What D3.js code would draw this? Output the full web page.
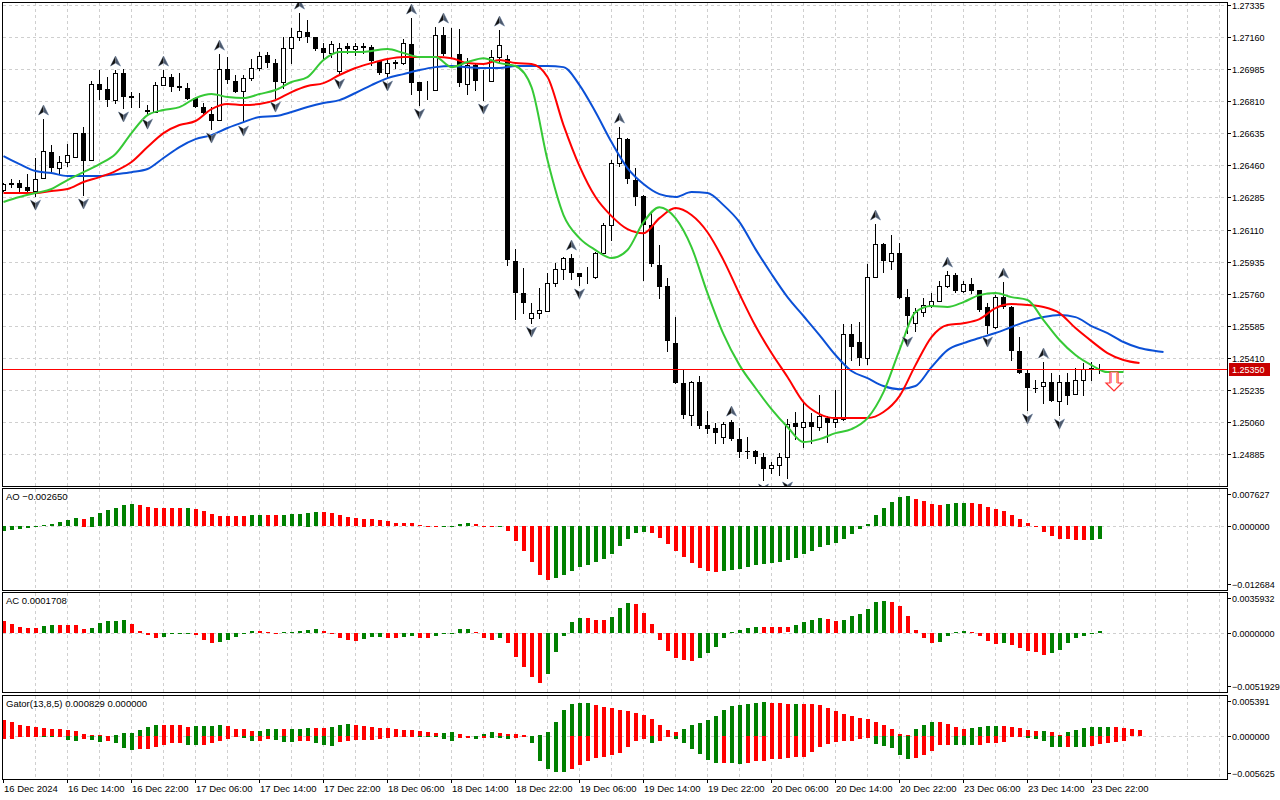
<!DOCTYPE html>
<html>
<head>
<meta charset="utf-8">
<title>GBPUSD H1 - Alligator, AO, AC, Gator</title>
<script src="https://cdn.jsdelivr.net/npm/d3@7/dist/d3.min.js"></script>
<style>
body { margin: 0; background: #fff; }
text { font-family: "Liberation Sans", Arial, sans-serif; font-size: 9.5px; fill: #000; }
text.scale { font-size: 9px; }
</style>
</head>
<body>
<script>
// H1 candles, 16 Dec 06:00 .. 23 Dec 23:00
var open = [
  1.26325, 1.26363, 1.26363, 1.26341, 1.26320, 1.26391, 1.26533, 1.26445, 1.26478, 1.26505,
  1.26636, 1.26489, 1.26904, 1.26876, 1.26816, 1.26964, 1.26838, 1.26827, 1.26762, 1.26751,
  1.26898, 1.26942, 1.26893, 1.26882, 1.26827, 1.26778, 1.26740, 1.26707, 1.26985, 1.26920,
  1.26865, 1.26936, 1.26991, 1.27062, 1.27018, 1.26915, 1.27100, 1.27160, 1.27187, 1.27160,
  1.27100, 1.27073, 1.26975, 1.27111, 1.27095, 1.27111, 1.27105, 1.27029, 1.26964, 1.27018,
  1.27018, 1.27122, 1.26915, 1.26876, 1.26871, 1.27171, 1.27067, 1.27067, 1.26904, 1.27007,
  1.26925, 1.26920, 1.27051, 1.27040, 1.25938, 1.25763, 1.25627, 1.25654, 1.25665, 1.25818,
  1.25894, 1.25954, 1.25872, 1.25850, 1.25850, 1.25981, 1.26134, 1.26472, 1.26603, 1.26380,
  1.26292, 1.26134, 1.25916, 1.25801, 1.25490, 1.25272, 1.25097, 1.25277, 1.25043, 1.25026,
  1.24977, 1.25059, 1.24966, 1.24901, 1.24901, 1.24868, 1.24808, 1.24824, 1.24868, 1.25054,
  1.25032, 1.25059, 1.25032, 1.25081, 1.25059, 1.25075, 1.25539, 1.25496, 1.25408, 1.25850,
  1.26030, 1.25938, 1.25981, 1.25741, 1.25599, 1.25659, 1.25698, 1.25719, 1.25801, 1.25861,
  1.25774, 1.25812, 1.25779, 1.25687, 1.25578, 1.25741, 1.25687, 1.25447, 1.25327, 1.25245,
  1.25256, 1.25277, 1.25174, 1.25277, 1.25212, 1.25288, 1.25348, 1.25348
];
var high = [
  1.26363, 1.26385, 1.26380, 1.26412, 1.26500, 1.26713, 1.26571, 1.26511, 1.26576, 1.26636,
  1.26669, 1.26920, 1.26980, 1.26942, 1.26980, 1.26985, 1.26860, 1.26855, 1.26789, 1.26915,
  1.26980, 1.26958, 1.26964, 1.26909, 1.26833, 1.26800, 1.26778, 1.27067, 1.27051, 1.26953,
  1.26953, 1.27040, 1.27078, 1.27078, 1.27040, 1.27160, 1.27209, 1.27291, 1.27253, 1.27160,
  1.27127, 1.27138, 1.27127, 1.27127, 1.27127, 1.27127, 1.27116, 1.27035, 1.27035, 1.27035,
  1.27149, 1.27264, 1.26915, 1.26920, 1.27215, 1.27215, 1.27209, 1.27204, 1.27045, 1.27013,
  1.26980, 1.27089, 1.27198, 1.27062, 1.26003, 1.25900, 1.25709, 1.25790, 1.25872, 1.25927,
  1.25960, 1.25976, 1.25872, 1.25905, 1.25987, 1.26145, 1.26489, 1.26669, 1.26609, 1.26445,
  1.26298, 1.26200, 1.26025, 1.25845, 1.25632, 1.25348, 1.25283, 1.25310, 1.25119, 1.25054,
  1.25059, 1.25070, 1.25026, 1.24977, 1.24906, 1.24890, 1.24841, 1.24890, 1.25075, 1.25114,
  1.25174, 1.25108, 1.25206, 1.25092, 1.25234, 1.25594, 1.25594, 1.25605, 1.25921, 1.26140,
  1.26036, 1.26080, 1.26036, 1.25785, 1.25681, 1.25736, 1.25763, 1.25829, 1.25883, 1.25872,
  1.25829, 1.25845, 1.25779, 1.25709, 1.25752, 1.25823, 1.25692, 1.25523, 1.25343, 1.25288,
  1.25387, 1.25327, 1.25316, 1.25327, 1.25354, 1.25381, 1.25387, 1.25376
];
var low = [
  1.26320, 1.26341, 1.26314, 1.26309, 1.26292, 1.26391, 1.26423, 1.26418, 1.26456, 1.26505,
  1.26298, 1.26489, 1.26822, 1.26784, 1.26800, 1.26773, 1.26778, 1.26778, 1.26734, 1.26751,
  1.26898, 1.26865, 1.26871, 1.26822, 1.26778, 1.26745, 1.26658, 1.26707, 1.26909, 1.26860,
  1.26696, 1.26925, 1.26980, 1.26996, 1.26827, 1.26882, 1.27018, 1.27144, 1.27133, 1.27089,
  1.27045, 1.27051, 1.26953, 1.27073, 1.27062, 1.27073, 1.27007, 1.26958, 1.26942, 1.26991,
  1.27013, 1.26849, 1.26789, 1.26822, 1.26871, 1.27062, 1.27051, 1.26893, 1.26849, 1.26871,
  1.26816, 1.26920, 1.27024, 1.25916, 1.25621, 1.25654, 1.25599, 1.25627, 1.25665, 1.25801,
  1.25840, 1.25840, 1.25807, 1.25818, 1.25845, 1.25981, 1.26052, 1.26456, 1.26363, 1.26243,
  1.25834, 1.25910, 1.25736, 1.25446, 1.25272, 1.25081, 1.25043, 1.25026, 1.24999, 1.24944,
  1.24944, 1.24961, 1.24868, 1.24863, 1.24835, 1.24743, 1.24781, 1.24770, 1.24754, 1.24966,
  1.24923, 1.24944, 1.25015, 1.24950, 1.25032, 1.25070, 1.25398, 1.25370, 1.25376, 1.25850,
  1.25878, 1.25894, 1.25736, 1.25545, 1.25556, 1.25638, 1.25687, 1.25719, 1.25796, 1.25769,
  1.25769, 1.25763, 1.25665, 1.25545, 1.25572, 1.25681, 1.25398, 1.25327, 1.25125, 1.25223,
  1.25163, 1.25174, 1.25097, 1.25157, 1.25212, 1.25206, 1.25288, 1.25327
];
var close = [
  1.26358, 1.26352, 1.26336, 1.26320, 1.26385, 1.26538, 1.26445, 1.26478, 1.26516, 1.26636,
  1.26483, 1.26904, 1.26871, 1.26816, 1.26964, 1.26833, 1.26827, 1.26828, 1.26751, 1.26898,
  1.26942, 1.26887, 1.26882, 1.26822, 1.26778, 1.26745, 1.26702, 1.26985, 1.26925, 1.26860,
  1.26936, 1.26991, 1.27056, 1.27018, 1.26915, 1.27100, 1.27160, 1.27193, 1.27160, 1.27095,
  1.27073, 1.27122, 1.27100, 1.27095, 1.27111, 1.27100, 1.27029, 1.26964, 1.27018, 1.27024,
  1.27127, 1.26909, 1.26865, 1.26877, 1.27171, 1.27067, 1.27068, 1.26909, 1.27007, 1.26920,
  1.26926, 1.27051, 1.27116, 1.25943, 1.25763, 1.25709, 1.25654, 1.25670, 1.25818, 1.25894,
  1.25954, 1.25872, 1.25850, 1.25851, 1.25981, 1.26134, 1.26472, 1.26609, 1.26385, 1.26287,
  1.26134, 1.25921, 1.25796, 1.25501, 1.25272, 1.25097, 1.25277, 1.25037, 1.25021, 1.24999,
  1.25048, 1.24966, 1.24895, 1.24900, 1.24868, 1.24803, 1.24824, 1.24868, 1.25048, 1.25032,
  1.25059, 1.25032, 1.25092, 1.25054, 1.25075, 1.25539, 1.25468, 1.25408, 1.25850, 1.26030,
  1.25938, 1.25981, 1.25736, 1.25638, 1.25659, 1.25698, 1.25719, 1.25801, 1.25861, 1.25774,
  1.25812, 1.25774, 1.25670, 1.25583, 1.25741, 1.25687, 1.25447, 1.25327, 1.25245, 1.25244,
  1.25277, 1.25174, 1.25277, 1.25201, 1.25288, 1.25348, 1.25354, 1.25350
];

// Alligator lines, read every second bar (jaw/teeth/lips are drawn shifted forward)
var jaw = [
  1.26511, 1.26467, 1.26429, 1.26418, 1.26402, 1.26402, 1.26402, 1.26412, 1.26423, 1.26440,
  1.26500, 1.26560, 1.26603, 1.26625, 1.26664, 1.26696, 1.26724, 1.26729, 1.26751, 1.26778,
  1.26800, 1.26816, 1.26855, 1.26898, 1.26936, 1.26958, 1.26980, 1.26996, 1.27002, 1.26996,
  1.26991, 1.26991, 1.27002, 1.27002, 1.27002, 1.26996, 1.26898, 1.26751, 1.26587, 1.26445,
  1.26358, 1.26303, 1.26287, 1.26314, 1.26309, 1.26243, 1.26150, 1.26003, 1.25867, 1.25741,
  1.25638, 1.25534, 1.25425, 1.25338, 1.25299, 1.25256, 1.25239, 1.25256, 1.25359, 1.25452,
  1.25490, 1.25518, 1.25545, 1.25578, 1.25610, 1.25632, 1.25643, 1.25632, 1.25583, 1.25545,
  1.25496, 1.25463, 1.25447, 1.25441
];
var teeth = [
  1.26309, 1.26309, 1.26309, 1.26320, 1.26331, 1.26369, 1.26396, 1.26429, 1.26478, 1.26560,
  1.26636, 1.26680, 1.26702, 1.26767, 1.26795, 1.26789, 1.26795, 1.26816, 1.26860, 1.26893,
  1.26909, 1.26953, 1.26991, 1.27018, 1.27040, 1.27051, 1.27051, 1.27051, 1.27045, 1.27018,
  1.27013, 1.27035, 1.27018, 1.27013, 1.26942, 1.26680, 1.26456, 1.26287, 1.26183, 1.26112,
  1.26090, 1.26172, 1.26227, 1.26189, 1.26095, 1.25943, 1.25758, 1.25583, 1.25436, 1.25305,
  1.25168, 1.25103, 1.25081, 1.25081, 1.25081, 1.25114, 1.25201, 1.25370, 1.25523, 1.25589,
  1.25599, 1.25621, 1.25681, 1.25703, 1.25698, 1.25687, 1.25654, 1.25572, 1.25501, 1.25436,
  1.25398, 1.25381
];
var lips = [
  1.26260, 1.26287, 1.26309, 1.26331, 1.26380, 1.26423, 1.26467, 1.26522, 1.26636, 1.26734,
  1.26762, 1.26778, 1.26827, 1.26849, 1.26833, 1.26827, 1.26849, 1.26871, 1.26915, 1.26942,
  1.27035, 1.27078, 1.27078, 1.27084, 1.27095, 1.27073, 1.27051, 1.27051, 1.26996, 1.27024,
  1.27045, 1.27018, 1.27002, 1.26887, 1.26489, 1.26189, 1.26063, 1.25998, 1.25954, 1.25998,
  1.26150, 1.26232, 1.26172, 1.26014, 1.25763, 1.25539, 1.25370, 1.25245, 1.25130, 1.25032,
  1.24950, 1.24966, 1.24999, 1.25021, 1.25081, 1.25223, 1.25452, 1.25659, 1.25692, 1.25687,
  1.25714, 1.25752, 1.25763, 1.25741, 1.25725, 1.25616, 1.25507, 1.25425, 1.25370, 1.25332,
  1.25332
];
var jawBars = d3.range(0, 145, 2).concat([145]);
var teethBars = d3.range(0, 143, 2);
var lipsBars = d3.range(0, 141, 2);

var fractalUp = [5, 14, 20, 27, 37, 51, 55, 62, 71, 77, 91, 109, 118, 125, 130];
var fractalDown = [4, 10, 15, 18, 26, 30, 34, 42, 48, 52, 60, 66, 72, 95, 98, 113, 123, 128, 132];

var lastPrice = 1.25350;
var sellArrow = { bar: 139, price: 1.25332 };

var aoValues = [
  -0.00106, -0.00073, -0.00053, -0.00046, -0.00020, 0.00020, 0.00040, 0.00086, 0.00126, 0.00166,
  0.00153, 0.00193, 0.00266, 0.00325, 0.00365, 0.00425, 0.00445, 0.00425, 0.00385, 0.00365,
  0.00364, 0.00363, 0.00362, 0.00365, 0.00339, 0.00305, 0.00246, 0.00206, 0.00205, 0.00204,
  0.00203, 0.00226, 0.00227, 0.00226, 0.00225, 0.00227, 0.00246, 0.00247, 0.00272, 0.00285,
  0.00284, 0.00266, 0.00226, 0.00179, 0.00159, 0.00153, 0.00146, 0.00119, 0.00100, 0.00060,
  0.00059, 0.00058, 0.00027, 0.00007, 0.00003, 0.00005, 0.00013, 0.00046, 0.00060, 0.00040,
  -0.00007, -0.00020, -0.00013, -0.00106, -0.00305, -0.00504, -0.00724, -0.00982, -0.01082, -0.01042,
  -0.00982, -0.00903, -0.00823, -0.00783, -0.00724, -0.00664, -0.00564, -0.00405, -0.00266, -0.00146,
  -0.00126, -0.00133, -0.00246, -0.00365, -0.00504, -0.00624, -0.00743, -0.00843, -0.00903, -0.00923,
  -0.00903, -0.00883, -0.00863, -0.00823, -0.00783, -0.00763, -0.00743, -0.00724, -0.00684, -0.00644,
  -0.00564, -0.00504, -0.00425, -0.00385, -0.00345, -0.00266, -0.00166, -0.00066, 0.00040, 0.00226,
  0.00365, 0.00485, 0.00584, 0.00604, 0.00544, 0.00504, 0.00445, 0.00425, 0.00445, 0.00465,
  0.00466, 0.00465, 0.00445, 0.00385, 0.00345, 0.00305, 0.00226, 0.00153, 0.00066, -0.00020,
  -0.00126, -0.00206, -0.00266, -0.00267, -0.00270, -0.00288, -0.00276, -0.002650
];
var aoColors = "ggggggggggrggggggrrrrrrgrrrrrrrggrrgggggrrrrrrrrrrrrrrrggggrrrgrrrrrrggggggggggggrrrrrrrrrggggggggggggggggggggggggrrrrgggrrrrrrrrrrrrrrrgg";

var acValues = [
  0.00104, 0.00078, 0.00052, 0.00044, 0.00043, 0.00064, 0.00070, 0.00069, 0.00068, 0.00067,
  0.00035, 0.00044, 0.00090, 0.00104, 0.00105, 0.00113, 0.00075, 0.00017, -0.00020, -0.00041,
  -0.00032, -0.00012, -0.00003, -0.00002, -0.00017, -0.00058, -0.00084, -0.00082, -0.00058, -0.00032,
  -0.00012, 0.00018, 0.00017, 0.00009, 0.00002, 0.00006, 0.00009, 0.00017, 0.00023, 0.00032,
  0.00020, -0.00003, -0.00041, -0.00061, -0.00070, -0.00049, -0.00032, -0.00031, -0.00041, -0.00042,
  -0.00032, -0.00023, -0.00041, -0.00042, -0.00023, -0.00012, 0.00001, 0.00035, 0.00036, 0.00006,
  -0.00041, -0.00058, -0.00041, -0.00084, -0.00215, -0.00302, -0.00389, -0.00441, -0.00363, -0.00171,
  -0.00023, 0.00096, 0.00131, 0.00130, 0.00113, 0.00112, 0.00139, 0.00218, 0.00261, 0.00252,
  0.00174, 0.00078, -0.00058, -0.00162, -0.00223, -0.00241, -0.00249, -0.00223, -0.00180, -0.00119,
  -0.00041, 0.00009, 0.00026, 0.00044, 0.00052, 0.00051, 0.00050, 0.00049, 0.00048, 0.00070,
  0.00096, 0.00113, 0.00131, 0.00122, 0.00104, 0.00113, 0.00148, 0.00165, 0.00209, 0.00270,
  0.00278, 0.00270, 0.00235, 0.00148, 0.00026, -0.00041, -0.00084, -0.00075, -0.00023, 0.00009,
  0.00017, 0.00009, -0.00023, -0.00067, -0.00093, -0.00084, -0.00102, -0.00128, -0.00154, -0.00171,
  -0.00189, -0.00180, -0.00145, -0.00084, -0.00041, -0.00023, -0.00006, 0.0001708
];
var acColors = "rrrrrggrrrrgggggrrrrggggrrrgggggrrrgggggrrrrrgggrrggrrgggggrrrgrrrrrgggggrrrgggrrrrrrrrggggggggrrrrggggrrggggggrrrrrrggggrrrrgrrrrrggggggg";

var gatorUp = [
  0.00210, 0.00184, 0.00149, 0.00131, 0.00118, 0.00105, 0.00092, 0.00091, 0.00079, 0.00066,
  0.00026, 0.00013, 0.00009, 0.00001, 0.00017, 0.00035, 0.00036, 0.00079, 0.00118, 0.00144,
  0.00143, 0.00142, 0.00141, 0.00118, 0.00131, 0.00132, 0.00133, 0.00144, 0.00131, 0.00092,
  0.00087, 0.00066, 0.00067, 0.00092, 0.00093, 0.00092, 0.00093, 0.00094, 0.00105, 0.00104,
  0.00103, 0.00118, 0.00144, 0.00157, 0.00144, 0.00131, 0.00118, 0.00105, 0.00104, 0.00092,
  0.00079, 0.00078, 0.00066, 0.00048, 0.00039, 0.00040, 0.00052, 0.00026, 0.00004, 0.00006,
  0.00026, 0.00052, 0.00039, 0.00026, 0.00025, 0.00013, 0.00003, 0.00010, 0.00052, 0.00188,
  0.00341, 0.00420, 0.00437, 0.00438, 0.00406, 0.00385, 0.00363, 0.00341, 0.00332, 0.00297,
  0.00275, 0.00219, 0.00140, 0.00079, 0.00048, 0.00092, 0.00140, 0.00175, 0.00210, 0.00262,
  0.00341, 0.00393, 0.00406, 0.00420, 0.00437, 0.00446, 0.00437, 0.00428, 0.00420, 0.00421,
  0.00419, 0.00418, 0.00402, 0.00371, 0.00328, 0.00288, 0.00262, 0.00232, 0.00219, 0.00188,
  0.00144, 0.00087, 0.00026, 0.00017, 0.00087, 0.00140, 0.00182, 0.00180, 0.00157, 0.00122,
  0.00092, 0.00109, 0.00118, 0.00131, 0.00132, 0.00130, 0.00122, 0.00109, 0.00079, 0.00061,
  0.00062, 0.00052, 0.00013, 0.00052, 0.00079, 0.00101, 0.00114, 0.00122, 0.00123, 0.00114,
  0.00109, 0.00087, 0.000829
];
var gatorUpColors = "rrrrrrrrrrrrrrggggggrrrrggggrrrrgggrgggrrgggrrrrrrrrrrrggrrgggrrrrrgggggggrrrrrrrrrrrgggggggggggrrrgrrrrrrrrrrrrrrgggrrrrggggrrrrrgrrggggggrrrr";
var gatorDown = [
  -0.00039, -0.00035, -0.00017, -0.00009, -0.00005, -0.00009, -0.00017, -0.00004, -0.00052, -0.00066,
  -0.00044, -0.00052, -0.00079, -0.00066, -0.00087, -0.00153, -0.00184, -0.00170, -0.00169, -0.00144,
  -0.00118, -0.00092, -0.00091, -0.00118, -0.00119, -0.00117, -0.00092, -0.00066, -0.00039, -0.00004,
  -0.00022, -0.00066, -0.00065, -0.00039, -0.00052, -0.00079, -0.00080, -0.00066, -0.00065, -0.00087,
  -0.00118, -0.00131, -0.00079, -0.00066, -0.00052, -0.00051, -0.00050, -0.00044, -0.00031, -0.00017,
  -0.00009, -0.00002, -0.00004, -0.00017, -0.00018, -0.00035, -0.00066, -0.00022, -0.00021, -0.00035,
  -0.00022, -0.00024, -0.00026, -0.00035, -0.00022, -0.00017, -0.00087, -0.00328, -0.00433, -0.00472,
  -0.00473, -0.00433, -0.00380, -0.00328, -0.00293, -0.00271, -0.00249, -0.00219, -0.00149, -0.00061,
  -0.00039, -0.00087, -0.00061, -0.00009, -0.00044, -0.00087, -0.00170, -0.00240, -0.00315, -0.00350,
  -0.00349, -0.00358, -0.00371, -0.00358, -0.00323, -0.00322, -0.00306, -0.00297, -0.00284, -0.00271,
  -0.00270, -0.00205, -0.00149, -0.00109, -0.00074, -0.00061, -0.00060, -0.00039, -0.00031, -0.00105,
  -0.00131, -0.00153, -0.00249, -0.00297, -0.00293, -0.00249, -0.00197, -0.00118, -0.00114, -0.00115,
  -0.00116, -0.00117, -0.00114, -0.00087, -0.00086, -0.00074, -0.00017, -0.00002, -0.00031, -0.00035,
  -0.00061, -0.00149, -0.00150, -0.00140, -0.00149, -0.00150, -0.00131, -0.00109, -0.00096, -0.00074,
  -0.00061
];
var gatorDownColors = "rrrrrggrggrggrgggrrrrrrggrrrrrggrrgggrrgggrrrrrrrrrrgggggrrgrgggrrgggggrrrrrrrrrrgrrggggggrggrrrrrrrrrrrrrrrrgggggrrrrrgggrrrrrrgggggrggrrrrr";

// axis texts
var priceTicks = [1.27335, 1.27160, 1.26985, 1.26810, 1.26635, 1.26460, 1.26285, 1.26110,
                  1.25935, 1.25760, 1.25585, 1.25410, 1.25235, 1.25060, 1.24885];
var aoTicks = [0.007627, 0, -0.012684];
var acTicks = [0.0035932, 0, -0.0051929];
var gatorTicks = [0.005391, 0, -0.005625];
var timeLabels = ["16 Dec 2024", "16 Dec 14:00", "16 Dec 22:00", "17 Dec 06:00", "17 Dec 14:00",
                  "17 Dec 22:00", "18 Dec 06:00", "18 Dec 14:00", "18 Dec 22:00", "19 Dec 06:00",
                  "19 Dec 14:00", "19 Dec 22:00", "20 Dec 06:00", "20 Dec 14:00", "20 Dec 22:00",
                  "23 Dec 06:00", "23 Dec 14:00", "23 Dec 22:00"];

var width = 1280, height = 800, axisX = 1227;
var panels = {
	main:  {top: 2,   bottom: 486},
	ao:    {top: 488, bottom: 590},
	ac:    {top: 592, bottom: 692},
	gator: {top: 695, bottom: 779}
};
var green = "#008000", red = "#ff0000";

// bar index -> pixel (8 px per bar)
var x = d3.scaleLinear().domain([0, 137]).range([3, 1099]);
var y = d3.scaleLinear().domain([1.247104, 1.273514]).range([486, 2]);
var yAO = d3.scaleLinear().domain([-0.012684, 0.007627]).range([590, 488]);
var yAC = d3.scaleLinear().domain([-0.0051929, 0.0035932]).range([692, 592]);
var yG = d3.scaleLinear().domain([-0.005625, 0.005391]).range([779, 695]);

function px(v) { return Math.round(v) + 0.5; }

var svg = d3.select("body").append("svg")
		.attr("width", width)
		.attr("height", height)
		.style("display", "block");

svg.append("rect").attr("width", width).attr("height", height).attr("fill", "#fff");

var defs = svg.append("defs");
Object.keys(panels).forEach(function(k) {
	var p = panels[k];
	defs.append("clipPath").attr("id", "clip-" + k)
		.append("rect")
		.attr("x", 3).attr("y", p.top + 1)
		.attr("width", axisX - 3).attr("height", p.bottom - p.top - 1);
});

// Grid: vertical every 4 bars in all panels
var gridBars = d3.range(4, 153, 4);
Object.keys(panels).forEach(function(k) {
	var p = panels[k];
	svg.append("g").selectAll("line")
		.data(gridBars)
		.enter().append("line")
		.attr("x1", function(d) { return px(x(d)); })
		.attr("x2", function(d) { return px(x(d)); })
		.attr("y1", p.top + 1)
		.attr("y2", p.bottom)
		.attr("stroke", "#cfcfcf")
		.attr("stroke-dasharray", "3,3")
		.attr("shape-rendering", "crispEdges");
});

// horizontal grid on price levels
svg.append("g").selectAll("line")
	.data(priceTicks)
	.enter().append("line")
	.attr("x1", 3).attr("x2", axisX)
	.attr("y1", function(d) { return px(y(d)); })
	.attr("y2", function(d) { return px(y(d)); })
	.attr("stroke", "#cfcfcf")
	.attr("stroke-dasharray", "3,3")
	.attr("shape-rendering", "crispEdges");

// zero lines in indicator windows
[yAO, yAC, yG].forEach(function(s) {
	svg.append("line")
		.attr("x1", 3).attr("x2", axisX)
		.attr("y1", px(s(0))).attr("y2", px(s(0)))
		.attr("stroke", "#cfcfcf")
		.attr("stroke-dasharray", "3,3")
		.attr("shape-rendering", "crispEdges");
});

// Candles
var candles = open.map(function(o, i) {
	return {i: i, o: o, h: high[i], l: low[i], c: close[i]};
});
var cg = svg.append("g").attr("clip-path", "url(#clip-main)");

cg.selectAll(".wick")
	.data(candles)
	.enter().append("line")
	.attr("class", "wick")
	.attr("x1", function(d) { return px(x(d.i)); })
	.attr("x2", function(d) { return px(x(d.i)); })
	.attr("y1", function(d) { return Math.round(y(d.h)); })
	.attr("y2", function(d) { return Math.round(y(d.l)) + 1; })
	.attr("stroke", "#000")
	.attr("shape-rendering", "crispEdges");

cg.selectAll(".body")
	.data(candles)
	.enter().append("rect")
	.attr("class", "body")
	.attr("x", function(d) { return d.c > d.o ? x(d.i) - 1.5 : x(d.i) - 2; })
	.attr("width", function(d) { return d.c > d.o ? 4 : 5; })
	.attr("y", function(d) {
		var top = Math.round(y(Math.max(d.o, d.c)));
		return d.c > d.o ? top + 0.5 : top;
	})
	.attr("height", function(d) {
		var hgt = Math.round(y(Math.min(d.o, d.c))) - Math.round(y(Math.max(d.o, d.c)));
		return d.c > d.o ? hgt : Math.max(1, hgt);
	})
	.attr("fill", function(d) { return d.c > d.o ? "#fff" : "#000"; })
	.attr("stroke", function(d) { return d.c > d.o ? "#000" : "none"; })
	.attr("shape-rendering", "crispEdges");

// Alligator
function drawLine(values, bars, color) {
	var line = d3.line()
		.x(function(d, k) { return x(bars[k]) + 0.5; })
		.y(function(d) { return y(d); })
		.curve(d3.curveMonotoneX);
	cg.append("path")
		.attr("d", line(values))
		.attr("fill", "none")
		.attr("stroke", color)
		.attr("stroke-width", 2);
}
drawLine(jaw, jawBars, "#0b50d6");
drawLine(teeth, teethBars, "#ff0000");
drawLine(lips, lipsBars, "#36c936");

// Fractals: arrowhead, dark left half, lighter right half
function fractal(g, cx, cy, dir) {
	// dir -1: pointing up, 1: pointing down
	var tip = [cx, cy + dir * 5], wingL = [cx - 5, cy - dir * 5], wingR = [cx + 5, cy - dir * 5],
		notch = [cx, cy - dir * 2];
	g.append("path")
		.attr("d", "M" + tip + "L" + wingR + "L" + notch + "L" + wingL + "Z")
		.attr("fill", "none").attr("stroke", "#9fb0c8").attr("stroke-width", 1);
	g.append("path")
		.attr("d", "M" + tip + "L" + notch + "L" + wingL + "Z")
		.attr("fill", "#141414");
	g.append("path")
		.attr("d", "M" + tip + "L" + wingR + "L" + notch + "Z")
		.attr("fill", "#4d5a6e");
}
var fg = cg.append("g");
fractalUp.forEach(function(i) { fractal(fg, x(i) + 0.5, y(high[i]) - 9, -1); });
fractalDown.forEach(function(i) { fractal(fg, x(i) + 0.5, y(low[i]) + 9, 1); });

// Sell arrow after the last bar
(function() {
	var cx = x(sellArrow.bar) - 1, t = Math.round(y(sellArrow.price));
	var d = "M" + (cx - 4) + "," + t + "L" + (cx + 4) + "," + t + "L" + (cx + 4) + "," + (t + 11) +
		"L" + (cx + 8) + "," + (t + 11) + "L" + cx + "," + (t + 19) + "L" + (cx - 8) + "," + (t + 11) +
		"L" + (cx - 4) + "," + (t + 11) + "Z";
	cg.append("path").attr("d", d).attr("fill", "#fff").attr("stroke", "#ff3030").attr("stroke-width", 1.2);
	cg.append("line").attr("x1", cx - 2.5).attr("x2", cx - 2.5).attr("y1", t + 1).attr("y2", t + 11)
		.attr("stroke", "#ff80c0").attr("stroke-width", 1);
	cg.append("line").attr("x1", cx + 2.5).attr("x2", cx + 2.5).attr("y1", t + 1).attr("y2", t + 11)
		.attr("stroke", "#ffb060").attr("stroke-width", 1);
})();

// Bid line
svg.append("rect")
	.attr("x", 3).attr("y", Math.round(y(lastPrice)))
	.attr("width", axisX - 3).attr("height", 1)
	.attr("fill", "#ff0000")
	.attr("shape-rendering", "crispEdges");

// Histograms
function histogram(values, colors, scale, clip) {
	svg.append("g").attr("clip-path", "url(#clip-" + clip + ")")
		.selectAll("rect")
		.data(values)
		.enter().append("rect")
		.attr("x", function(d, i) { return x(i) - 1; })
		.attr("width", 4)
		.attr("y", function(d) { return Math.round(Math.min(scale(d), scale(0))); })
		.attr("height", function(d) { return Math.max(1, Math.round(Math.abs(scale(d) - scale(0)))); })
		.attr("fill", function(d, i) { return colors[i] === "g" ? green : red; })
		.attr("shape-rendering", "crispEdges");
}
histogram(aoValues, aoColors, yAO, "ao");
histogram(acValues, acColors, yAC, "ac");
histogram(gatorUp, gatorUpColors, yG, "gator");
histogram(gatorDown, gatorDownColors, yG, "gator");

// Frames
Object.keys(panels).forEach(function(k) {
	var p = panels[k];
	svg.append("rect")
		.attr("x", 2.5).attr("y", p.top + 0.5)
		.attr("width", axisX - 2).attr("height", p.bottom - p.top)
		.attr("fill", "none")
		.attr("stroke", "#000")
		.attr("shape-rendering", "crispEdges");
});

// Right price scale
var fmt5 = d3.format(".5f");
var ax = svg.append("g");
priceTicks.forEach(function(p) {
	var yy = px(y(p));
	ax.append("line").attr("x1", axisX).attr("x2", axisX + 4).attr("y1", yy).attr("y2", yy)
		.attr("stroke", "#000").attr("shape-rendering", "crispEdges");
	ax.append("text").attr("class", "scale").attr("x", axisX + 5).attr("y", yy).attr("dy", "0.35em").text(fmt5(p));
});

// current price tag
svg.append("rect")
	.attr("x", axisX + 2).attr("y", Math.round(y(lastPrice)) - 6)
	.attr("width", 41).attr("height", 13)
	.attr("fill", "#c80000");
svg.append("text")
	.attr("class", "scale")
	.attr("x", axisX + 5).attr("y", px(y(lastPrice)))
	.attr("dy", "0.35em")
	.style("fill", "#fff")
	.text(fmt5(lastPrice));

// Indicator scales
function sideLabels(ticks, scale, panel, f) {
	ticks.forEach(function(v) {
		var yy = Math.max(panel.top + 6, Math.min(panel.bottom - 6, scale(v)));
		yy = px(yy);
		ax.append("line").attr("x1", axisX).attr("x2", axisX + 4).attr("y1", yy).attr("y2", yy)
			.attr("stroke", "#000").attr("shape-rendering", "crispEdges");
		ax.append("text").attr("class", "scale").attr("x", axisX + 5).attr("y", yy).attr("dy", "0.35em").text(f(v));
	});
}
sideLabels(aoTicks, yAO, panels.ao, d3.format(".6f"));
sideLabels(acTicks, yAC, panels.ac, d3.format(".7f"));
sideLabels(gatorTicks, yG, panels.gator, d3.format(".6f"));

// Window titles
var f6 = d3.format(".6f");
svg.append("text").attr("x", 6).attr("y", panels.ao.top + 12)
	.text("AO " + f6(aoValues[aoValues.length - 1]));
svg.append("text").attr("x", 6).attr("y", panels.ac.top + 12)
	.text("AC " + d3.format(".7f")(acValues[acValues.length - 1]));
svg.append("text").attr("x", 6).attr("y", panels.gator.top + 12)
	.text("Gator(13,8,5) " + f6(gatorUp[gatorUp.length - 1]) + " " + f6(Math.abs(gatorDown[gatorUp.length - 1] || 0)));

// Time axis
var timeBars = d3.range(0, 137, 8);
var tg = svg.append("g");
timeBars.forEach(function(b, k) {
	tg.append("line").attr("x1", px(x(b))).attr("x2", px(x(b)))
		.attr("y1", panels.gator.bottom).attr("y2", panels.gator.bottom + 4)
		.attr("stroke", "#000").attr("shape-rendering", "crispEdges");
	tg.append("text").attr("x", x(b) + 1).attr("y", 792).text(timeLabels[k]);
});
</script>
</body>
</html>
